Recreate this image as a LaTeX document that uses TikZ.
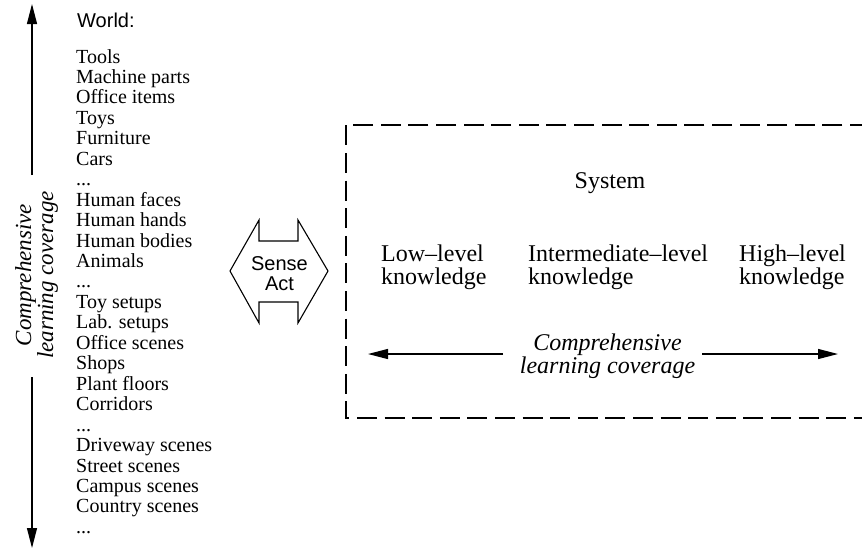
\documentclass[tikz,border=0pt]{standalone}
\usepackage{fontspec}
\setmainfont{Liberation Serif}
\newfontfamily\helv{Liberation Sans}
\usetikzlibrary{arrows.meta}
\newcommand\mydots{...}
\begin{document}
\begin{tikzpicture}[x=1pt,y=-1pt,
  item/.style={anchor=base west, inner sep=0pt, font=\fontsize{20}{20.45}\selectfont},
  sanslbl/.style={inner sep=0pt, font=\helv\fontsize{20}{20}\selectfont},
  lbl/.style={inner sep=0pt, align=left, anchor=base west, font=\fontsize{24}{22.3}\selectfont},
  itlbl/.style={inner sep=0pt, align=center, anchor=base, font=\itshape\fontsize{24}{23}\selectfont},
  arr/.style={line width=1.2pt, -{Triangle[length=20pt,width=10pt]}},
  boxline/.style={line width=1.3pt, dash pattern=on 20pt off 7.6pt},
  shapeline/.style={line width=1.1pt, line join=miter}
]
\useasboundingbox (0,0) rectangle (862,550);
\clip (0,0) rectangle (862,550);

% World list
\node[sanslbl, anchor=base west] (world) at (77,27) {World:};
\foreach \t [count=\i from 0] in {Tools,Machine parts,Office items,Toys,Furniture,Cars,\mydots,Human faces,Human hands,Human bodies,Animals,\mydots,Toy setups,Lab. setups,Office scenes,Shops,Plant floors,Corridors,\mydots,Driveway scenes,Street scenes,Campus scenes,Country scenes,\mydots}
  \node[item] (w\i) at (76,63+20.45*\i) {\t};

% vertical coverage arrow (base anchor = last line's baseline)
\node[itlbl, rotate=90, font=\itshape\fontsize{23}{20}\selectfont] (vcov) at (53,275) {Comprehensive\\learning coverage};
\coordinate (vtop) at (32,4);
\coordinate (vtopstart) at (32,175);
\coordinate (vbot) at (32,548);
\coordinate (vbotstart) at (32,377);
\draw[arr] (vtopstart) -- (vtop);
\draw[arr] (vbotstart) -- (vbot);

% Sense / Act
\draw[shapeline] (230,271) -- (259,220) -- (259,241) -- (298,241) -- (298,220) -- (328,271)
  -- (298,323) -- (298,302) -- (259,302) -- (259,323) -- cycle;
\node[sanslbl, align=center, anchor=base] (sense) at (279.5,290) {Sense\\Act};

% System box
\draw[boxline] (870,125) -- (346,125) -- (346,418) -- (870,418);
\node[inner sep=0pt, anchor=base, font=\fontsize{24}{24}\selectfont] (sys) at (610,188) {System};
\node[lbl] (low) at (381,284) {Low--level\\knowledge};
\node[lbl] (mid) at (528,284) {Intermediate--level\\knowledge};
\node[lbl] (high) at (739,284) {High--level\\knowledge};

\node[itlbl] (hcov) at (607.5,373) {Comprehensive\\learning coverage};
\coordinate (hl) at (368,354);
\coordinate (hls) at (503,354);
\coordinate (hr) at (838,354);
\coordinate (hrs) at (702,354);
\draw[arr] (hls) -- (hl);
\draw[arr] (hrs) -- (hr);
\end{tikzpicture}
\end{document}
